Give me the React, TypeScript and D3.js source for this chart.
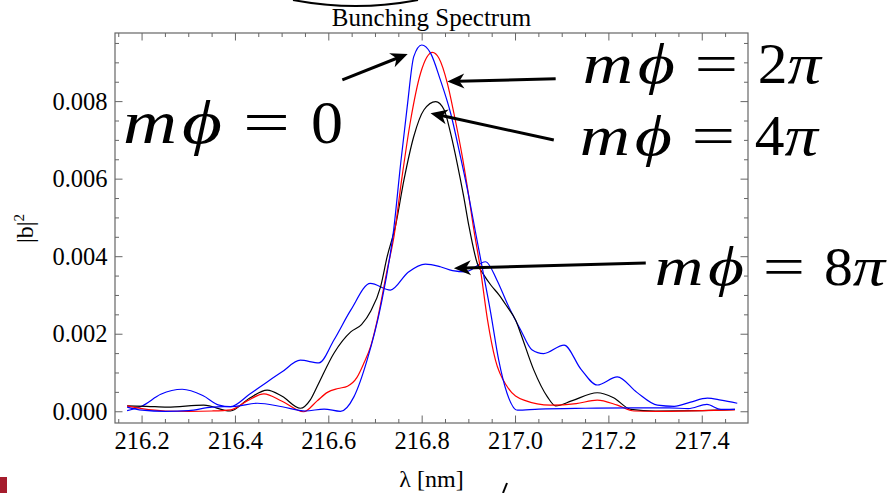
import React from "react";
import * as d3 from "d3";

type Pt = [number, number];

// |b|^2 versus wavelength (nm)
const phi0: Pt[] = [
  [216.168, 0.00012], [216.2, 0.00004], [216.25, 0.00001], [216.3, 0.00003],
  [216.35, 0.00012], [216.4, 0.00014], [216.447, 0.00022], [216.5, 0.00013],
  [216.55, 0.00002], [216.59, 0.00007], [216.625, 0.00001], [216.654, 0.00039],
  [216.682, 0.00133], [216.711, 0.00271], [216.739, 0.0047], [216.754, 0.00641],
  [216.768, 0.00787], [216.782, 0.00916], [216.799, 0.00946], [216.818, 0.00925],
  [216.839, 0.00856], [216.861, 0.0077], [216.882, 0.00658], [216.9, 0.00555],
  [216.914, 0.00465], [216.929, 0.0037], [216.947, 0.00254], [216.964, 0.00133],
  [216.982, 0.00047], [217.004, 0.00004], [217.05, 0.00007], [217.15, 0.00009],
  [217.25, 0.0001], [217.33, 0.0001], [217.37, 0.00008], [217.41, 0.00019],
  [217.44, 0.00006], [217.47, 0.00006],
];

const phi2: Pt[] = [
  [216.168, 0.00015], [216.2, 0.00008], [216.25, 0.00002], [216.3, 0.00001],
  [216.35, 0.00002], [216.39, 0.00005], [216.425, 0.00028], [216.461, 0.00046],
  [216.5, 0.00027], [216.546, 0.0], [216.575, 0.00028], [216.597, 0.0005],
  [216.62, 0.0006], [216.64, 0.00066], [216.66, 0.00088], [216.675, 0.00125],
  [216.69, 0.0017], [216.704, 0.00237], [216.725, 0.00366], [216.74, 0.00455],
  [216.756, 0.00598], [216.775, 0.0075], [216.797, 0.00875], [216.822, 0.00927],
  [216.836, 0.00912], [216.854, 0.00847], [216.868, 0.0077], [216.886, 0.00658],
  [216.9, 0.00555], [216.91, 0.00475], [216.925, 0.00366], [216.94, 0.00237],
  [216.957, 0.00133], [216.982, 0.00065], [217.018, 0.0003], [217.075, 0.00017],
  [217.13, 0.00021], [217.175, 0.0003], [217.218, 0.00017], [217.254, 0.00002],
  [217.3, 0.00001], [217.4, 0.00003], [217.47, 0.00005],
];

const phi4: Pt[] = [
  [216.168, 0.00015], [216.21, 0.00014], [216.254, 0.00012], [216.332, 0.00017],
  [216.389, 0.00002], [216.43, 0.00035], [216.468, 0.00056], [216.5, 0.0004],
  [216.539, 0.00009], [216.56, 0.0003], [216.575, 0.00065], [216.611, 0.00151],
  [216.647, 0.00206], [216.67, 0.00225], [216.69, 0.0026], [216.711, 0.00323],
  [216.725, 0.004], [216.743, 0.0048], [216.761, 0.00598], [216.782, 0.0071],
  [216.804, 0.00779], [216.829, 0.008], [216.847, 0.00779], [216.861, 0.00718],
  [216.875, 0.00641], [216.889, 0.00555], [216.9, 0.0048], [216.918, 0.00383],
  [216.932, 0.00353], [216.947, 0.00327], [216.965, 0.00301], [216.982, 0.00271],
  [217.0, 0.00237], [217.011, 0.00202], [217.039, 0.00108], [217.068, 0.00039],
  [217.086, 0.00015], [217.12, 0.00028], [217.175, 0.00049], [217.21, 0.00036],
  [217.247, 0.00006], [217.3, 0.00002], [217.4, 0.00003], [217.47, 0.00006],
];

const phi8: Pt[] = [
  [216.168, 0.00003], [216.2, 0.00015], [216.24, 0.00045], [216.286, 0.00058],
  [216.33, 0.00042], [216.365, 0.00017], [216.389, 0.00013], [216.43, 0.00045],
  [216.468, 0.00077], [216.5, 0.00103], [216.539, 0.00133], [216.579, 0.00126],
  [216.611, 0.00185], [216.647, 0.00262], [216.689, 0.00331], [216.732, 0.00314],
  [216.77, 0.0036], [216.807, 0.00381], [216.839, 0.00374], [216.865, 0.00364],
  [216.893, 0.00361], [216.936, 0.00387], [216.96, 0.0034], [216.982, 0.0028],
  [217.011, 0.00211], [217.035, 0.0016], [217.06, 0.0015], [217.104, 0.00172],
  [217.14, 0.0011], [217.175, 0.00069], [217.218, 0.0009], [217.26, 0.0005],
  [217.304, 0.00017], [217.34, 0.00014], [217.375, 0.00025], [217.411, 0.00035],
  [217.44, 0.0003], [217.475, 0.00022],
];

const xTicks = [216.2, 216.4, 216.6, 216.8, 217.0, 217.2, 217.4];
const xTickLabels = ["216.2", "216.4", "216.6", "216.8", "217.0", "217.2", "217.4"];
const yTicks = [0, 0.002, 0.004, 0.006, 0.008];
const yTickLabels = ["0.000", "0.002", "0.004", "0.006", "0.008"];

const title = "Bunching Spectrum";
const xLabel = "λ [nm]";

// annotation arrows in data coordinates: tail -> tip
const arrows: { tail: Pt; tip: Pt }[] = [
  { tail: [216.629, 0.00856], tip: [216.769, 0.00923] },
  { tail: [217.086, 0.00859], tip: [216.854, 0.00852] },
  { tail: [217.082, 0.00701], tip: [216.818, 0.0077] },
  { tail: [217.279, 0.00384], tip: [216.868, 0.0037] },
];

const labels: { rhs: string[]; x: number; y: number; s: number }[] = [
  { rhs: ["0"], x: 121, y: 143, s: 1 },
  { rhs: ["2", "π"], x: 581, y: 83, s: 0.93 },
  { rhs: ["4", "π"], x: 578, y: 155, s: 0.93 },
  { rhs: ["8", "π"], x: 653, y: 285, s: 0.9 },
];

const W = 892;
const H = 493;
const L = 115, R = 748, T = 33, B = 423;
const FRAME = "#666";
const SERIF = "Liberation Serif, Times New Roman, DejaVu Serif, serif";

function Arrow({ x1, y1, x2, y2 }: { x1: number; y1: number; x2: number; y2: number }) {
  const dx = x2 - x1, dy = y2 - y1;
  const len = Math.hypot(dx, dy);
  const ux = dx / len, uy = dy / len;
  const nx = -uy, ny = ux;
  const hl = 17, hw = 7.5, notch = 5;
  const bx = x2 - ux * hl, by = y2 - uy * hl;
  const mx = x2 - ux * (hl - notch), my = y2 - uy * (hl - notch);
  const head = `M${x2},${y2}L${bx + nx * hw},${by + ny * hw}L${mx},${my}L${bx - nx * hw},${by - ny * hw}Z`;
  return (
    <g>
      <line x1={x1} y1={y1} x2={mx + ux} y2={my + uy} stroke="#000" strokeWidth={3} />
      <path d={head} fill="#000" />
    </g>
  );
}

function MathLabel({ rhs, x, y, s }: { rhs: string[]; x: number; y: number; s: number }) {
  const fs = 62 * s;
  const pieces: { t: string; dx: number; w: number; it: boolean }[] = [
    { t: "m", dx: 2, w: 54, it: true },
    { t: "ϕ", dx: 61, w: 40, it: true },
    { t: "=", dx: 122, w: 47, it: false },
  ];
  const rhsSlots = [
    { dx: 190, w: 32 },
    { dx: 222, w: 36 },
  ];
  rhs.forEach((t, i) => pieces.push({ t, dx: rhsSlots[i].dx, w: rhsSlots[i].w, it: t === "π" }));
  return (
    <g>
      {pieces.map((p, i) => (
        <text
          key={i}
          x={x + p.dx * s}
          y={y}
          fontSize={fs}
          fontFamily={SERIF}
          fontStyle={p.it ? "italic" : "normal"}
          textLength={p.w * s}
          lengthAdjust="spacingAndGlyphs"
          fill="#000"
        >
          {p.t}
        </text>
      ))}
    </g>
  );
}

export default function App() {
  const x = d3.scaleLinear().domain([216.142, 217.498]).range([L, R]);
  const y = d3.scaleLinear().domain([-0.00029, 0.00977]).range([B, T]);

  const line = d3
    .line<Pt>()
    .x((d) => x(d[0]))
    .y((d) => y(d[1]))
    .curve(d3.curveMonotoneX);

  const xMinor = d3.range(216.15, 217.4501, 0.05).filter((v) => !xTicks.some((t) => Math.abs(t - v) < 1e-6));
  const yMinor = d3.range(0, 0.00951, 0.0005).filter((v) => !yTicks.some((t) => Math.abs(t - v) < 1e-9));

  const series: { data: Pt[]; color: string }[] = [
    { data: phi8, color: "#0000ff" },
    { data: phi4, color: "#000000" },
    { data: phi2, color: "#ff0000" },
    { data: phi0, color: "#0000ff" },
  ];

  const major = 7.5, minor = 4;

  return (
    <svg
      width={W}
      height={H}
      viewBox={`0 0 ${W} ${H}`}
      style={{ position: "absolute", left: 0, top: 0, background: "#fff" }}
    >
      <rect x={0} y={0} width={W} height={H} fill="#fff" />

      {/* remnant arc at top */}
      <path d="M293,0 Q356,12 418,0" fill="none" stroke="#000" strokeWidth={2} />

      <text x={(L + R) / 2} y={26} textAnchor="middle" fontSize={25} fontFamily={SERIF} fill="#000">
        {title}
      </text>

      <defs>
        <clipPath id="plot">
          <rect x={L} y={T} width={R - L} height={B - T} />
        </clipPath>
      </defs>

      <g clipPath="url(#plot)">
        {series.map((s, i) => (
          <path key={i} d={line(s.data) || ""} fill="none" stroke={s.color} strokeWidth={1.2} />
        ))}
      </g>

      {/* frame */}
      <rect x={L} y={T} width={R - L} height={B - T} fill="none" stroke={FRAME} strokeWidth={1.2} />

      {/* x ticks bottom & top */}
      {xTicks.map((t) => (
        <g key={"xt" + t}>
          <line x1={x(t)} x2={x(t)} y1={B} y2={B - major} stroke={FRAME} />
          <line x1={x(t)} x2={x(t)} y1={T} y2={T + major} stroke={FRAME} />
        </g>
      ))}
      {xMinor.map((t) => (
        <g key={"xm" + t}>
          <line x1={x(t)} x2={x(t)} y1={B} y2={B - minor} stroke={FRAME} />
          <line x1={x(t)} x2={x(t)} y1={T} y2={T + minor} stroke={FRAME} />
        </g>
      ))}
      {/* y ticks left & right */}
      {yTicks.map((t) => (
        <g key={"yt" + t}>
          <line x1={L} x2={L + major} y1={y(t)} y2={y(t)} stroke={FRAME} />
          <line x1={R} x2={R - major} y1={y(t)} y2={y(t)} stroke={FRAME} />
        </g>
      ))}
      {yMinor.map((t) => (
        <g key={"ym" + t}>
          <line x1={L} x2={L + minor} y1={y(t)} y2={y(t)} stroke={FRAME} />
          <line x1={R} x2={R - minor} y1={y(t)} y2={y(t)} stroke={FRAME} />
        </g>
      ))}

      {xTicks.map((t, i) => (
        <text key={"xl" + t} x={x(t)} y={449} textAnchor="middle" fontSize={24.5} fontFamily={SERIF} fill="#000">
          {xTickLabels[i]}
        </text>
      ))}
      {yTicks.map((t, i) => (
        <text key={"yl" + t} x={107.5} y={y(t) + 8} textAnchor="end" fontSize={24.5} fontFamily={SERIF} fill="#000">
          {yTickLabels[i]}
        </text>
      ))}

      <text x={(L + R) / 2} y={487} textAnchor="middle" fontSize={24} fontFamily={SERIF} fill="#000">
        {xLabel}
      </text>

      <text transform="translate(33,243) rotate(-90)" fontSize={24} fontFamily={SERIF} fill="#000">
        |b|<tspan fontSize={15} dy={-9}>2</tspan>
      </text>

      {arrows.map((a, i) => (
        <Arrow key={i} x1={x(a.tail[0])} y1={y(a.tail[1])} x2={x(a.tip[0])} y2={y(a.tip[1])} />
      ))}
      {labels.map((l, i) => (
        <MathLabel key={i} {...l} />
      ))}

      {/* stray marks at bottom */}
      <rect x={0} y={477} width={7} height={16} fill="#a51d2d" />
      <line x1={503} y1={493} x2={507} y2={483} stroke="#000" strokeWidth={2} />
    </svg>
  );
}
